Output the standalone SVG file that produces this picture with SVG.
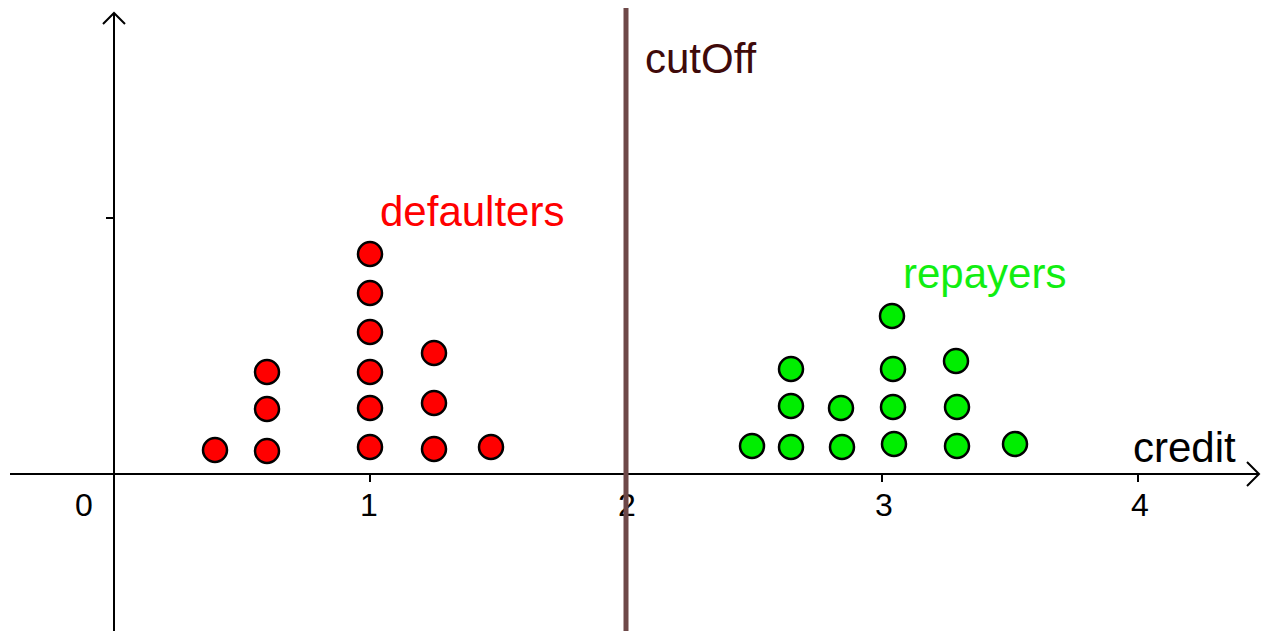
<svg xmlns="http://www.w3.org/2000/svg" width="1265" height="631" viewBox="0 0 1265 631">
<style>
.ax{stroke:#000;stroke-width:2;fill:none}
.red{fill:#ff0000;stroke:#000;stroke-width:2.5}
.grn{fill:#00ee00;stroke:#000;stroke-width:2.5}
.lbl{font-family:"Liberation Sans",Arial,sans-serif;font-size:42px}
.tk{font-family:"Liberation Sans",Arial,sans-serif;font-size:32px;text-anchor:middle;fill:#000}
</style>
<rect width="1265" height="631" fill="#fff"/>
<g id="axes">
<line class="ax" x1="10" y1="474" x2="1258" y2="474"/>
<polyline class="ax" points="1247,462 1259,474 1247,486"/>
<line class="ax" x1="114" y1="631" x2="114" y2="13"/>
<polyline class="ax" points="103,24 114,13 125,24"/>
<line class="ax" x1="370" y1="474" x2="370" y2="482"/>
<line class="ax" x1="626" y1="474" x2="626" y2="482"/>
<line class="ax" x1="882" y1="474" x2="882" y2="482"/>
<line class="ax" x1="1138" y1="474" x2="1138" y2="482"/>
<line class="ax" x1="106" y1="218" x2="114" y2="218"/>
<text class="tk" x="84" y="516">0</text>
<text class="tk" x="369" y="516">1</text>
<text class="tk" x="627" y="516">2</text>
<text class="tk" x="884" y="516">3</text>
<text class="tk" x="1140" y="516">4</text>
<text class="lbl" x="1133" y="462" fill="#000">credit</text>
</g>
<g id="cutoff">
<line x1="626" y1="8" x2="626" y2="631" stroke="#6e4848" stroke-width="5"/>
<text class="lbl" x="645" y="73" fill="#3f0a0a">cutOff</text>
</g>
<g id="defaulters">
<circle class="red" cx="215" cy="450" r="12"/>
<circle class="red" cx="267" cy="372" r="12"/>
<circle class="red" cx="267" cy="409" r="12"/>
<circle class="red" cx="267" cy="451" r="12"/>
<circle class="red" cx="370" cy="254" r="12"/>
<circle class="red" cx="370" cy="293" r="12"/>
<circle class="red" cx="370" cy="332" r="12"/>
<circle class="red" cx="370" cy="372" r="12"/>
<circle class="red" cx="370" cy="408" r="12"/>
<circle class="red" cx="370" cy="447" r="12"/>
<circle class="red" cx="434" cy="353" r="12"/>
<circle class="red" cx="434" cy="403" r="12"/>
<circle class="red" cx="434" cy="449" r="12"/>
<circle class="red" cx="491" cy="447" r="12"/>
<text class="lbl" x="380" y="226" fill="#ff0000">defaulters</text>
</g>
<g id="repayers">
<circle class="grn" cx="752" cy="446" r="12"/>
<circle class="grn" cx="791" cy="369" r="12"/>
<circle class="grn" cx="791" cy="406" r="12"/>
<circle class="grn" cx="791" cy="447" r="12"/>
<circle class="grn" cx="841" cy="408" r="12"/>
<circle class="grn" cx="842" cy="447" r="12"/>
<circle class="grn" cx="892" cy="316" r="12"/>
<circle class="grn" cx="893" cy="369" r="12"/>
<circle class="grn" cx="893" cy="407" r="12"/>
<circle class="grn" cx="894" cy="444" r="12"/>
<circle class="grn" cx="956" cy="361" r="12"/>
<circle class="grn" cx="957" cy="407" r="12"/>
<circle class="grn" cx="957" cy="446" r="12"/>
<circle class="grn" cx="1015" cy="444" r="12"/>
<text class="lbl" x="903" y="288" fill="#11ee11">repayers</text>
</g>
</svg>
